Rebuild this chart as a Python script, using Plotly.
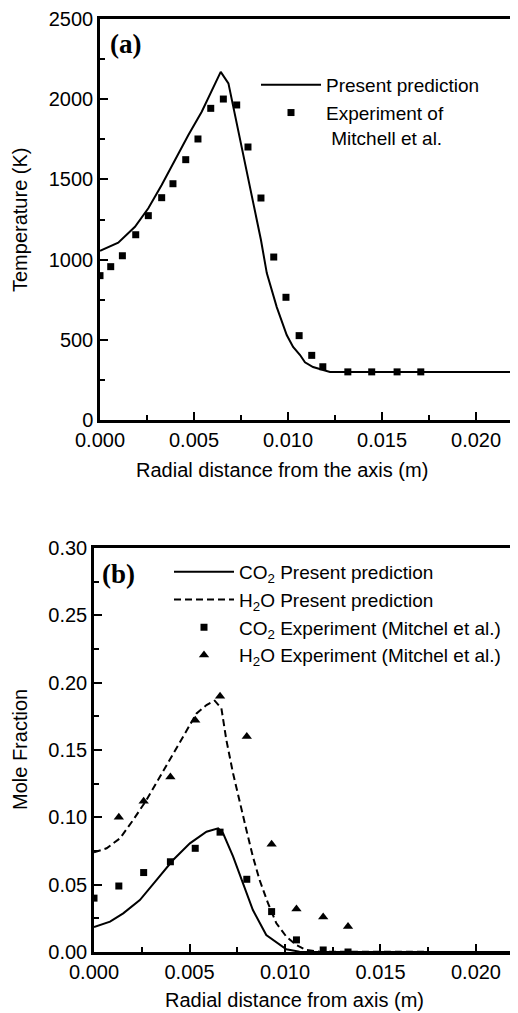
import plotly.graph_objects as go

# The page body adds an 8 px margin, so the figure is 8 px smaller than the window
OFF = 8
W, H = 518 - OFF, 1013 - OFF

# ---------------- Panel (a): temperature ----------------
temp_line_x = [0.0, 0.00097, 0.00186, 0.00257, 0.00328, 0.00399, 0.0047, 0.00541, 0.00594,
               0.00642, 0.00683, 0.00718, 0.00755, 0.00806, 0.00856, 0.00887, 0.0094, 0.00993,
               0.01027, 0.01064, 0.0109, 0.01133, 0.01223, 0.0223]
temp_line_T = [1055, 1105, 1205, 1320, 1465, 1621, 1777, 1922, 2057,
               2170, 2099, 1900, 1700, 1415, 1122, 916, 704, 530,
               455, 405, 360, 330, 300, 300]

temp_exp_x = [0.0, 0.00057, 0.00119, 0.0019, 0.00257, 0.00328, 0.00388, 0.00456, 0.00521,
              0.00589, 0.00656, 0.00727, 0.00787, 0.00856, 0.00924, 0.00989, 0.01059, 0.01126,
              0.01185, 0.01318, 0.01445, 0.0158, 0.01706]
temp_exp_T = [900, 956, 1024, 1155, 1274, 1386, 1473, 1623, 1752,
              1943, 2001, 1964, 1702, 1384, 1016, 765, 526, 403,
              332, 300, 300, 300, 300]

# ---------------- Panel (b): mole fractions ----------------
co2_line_x = [0.0, 0.00084, 0.00153, 0.0024, 0.00328, 0.00414, 0.00502, 0.00589, 0.0065,
              0.00676, 0.00728, 0.0078, 0.00832, 0.00902, 0.00972, 0.01007, 0.01076, 0.0223]
co2_line_y = [0.0185, 0.0225, 0.0287, 0.0386, 0.0535, 0.0683, 0.0807, 0.0893, 0.0918,
              0.0881, 0.071, 0.051, 0.0312, 0.0126, 0.0052, 0.002, 0.0002, 0.0]

h2o_line_x = [0.0, 0.00066, 0.00136, 0.00205, 0.00275, 0.00345, 0.00414, 0.00484, 0.00537,
              0.00589, 0.00632, 0.00667, 0.00693, 0.00728, 0.00763, 0.00798, 0.00832, 0.00867,
              0.00911, 0.00955, 0.01007, 0.01059, 0.01111, 0.01181, 0.0223]
h2o_line_y = [0.074, 0.077, 0.0844, 0.098, 0.1129, 0.1302, 0.1475, 0.1648, 0.1772,
              0.1834, 0.1866, 0.181, 0.1574, 0.1327, 0.1104, 0.0906, 0.0708, 0.0535,
              0.0362, 0.0213, 0.0114, 0.0052, 0.0015, 0.0002, 0.0]

co2_exp_x = [0.0, 0.0013, 0.0026, 0.0040, 0.0053, 0.0066, 0.0080, 0.0093, 0.0106, 0.0120, 0.0133]
co2_exp_y = [0.040, 0.049, 0.059, 0.067, 0.077, 0.089, 0.054, 0.030, 0.009, 0.0015, 0.0]

h2o_exp_x = [0.0013, 0.0026, 0.0040, 0.0053, 0.0066, 0.0080, 0.0093, 0.0106, 0.0120, 0.0133]
h2o_exp_y = [0.100, 0.112, 0.130, 0.172, 0.190, 0.160, 0.080, 0.032, 0.026, 0.019]

x_ticks = [0.0, 0.005, 0.010, 0.015, 0.020]

FONT = "Liberation Sans"


def px(p):
    """page x pixel -> paper fraction"""
    return (p - OFF) / W


def py(p):
    """page y pixel -> paper fraction"""
    return 1 - (p - OFF) / H


fig = go.Figure()

fig.add_trace(go.Scatter(x=temp_line_x, y=temp_line_T, mode="lines",
                         line=dict(color="black", width=2),
                         name="Present prediction", xaxis="x", yaxis="y", legend="legend"))
fig.add_trace(go.Scatter(x=temp_exp_x, y=temp_exp_T, mode="markers",
                         marker=dict(symbol="square", size=7, color="black"),
                         name="Experiment of<br> Mitchell et al.", xaxis="x", yaxis="y",
                         legend="legend"))

fig.add_trace(go.Scatter(x=co2_line_x, y=co2_line_y, mode="lines",
                         line=dict(color="black", width=2),
                         name="CO<sub>2</sub> Present prediction", xaxis="x2", yaxis="y2",
                         legend="legend2"))
fig.add_trace(go.Scatter(x=h2o_line_x, y=h2o_line_y, mode="lines",
                         line=dict(color="black", width=2, dash="7px,4px"),
                         name="H<sub>2</sub>O Present prediction", xaxis="x2", yaxis="y2",
                         legend="legend2"))
fig.add_trace(go.Scatter(x=co2_exp_x, y=co2_exp_y, mode="markers",
                         marker=dict(symbol="square", size=7, color="black"),
                         name="CO<sub>2</sub> Experiment (Mitchel et al.)", xaxis="x2", yaxis="y2",
                         legend="legend2"))
fig.add_trace(go.Scatter(x=h2o_exp_x, y=h2o_exp_y, mode="markers",
                         marker=dict(symbol="triangle-up", size=9, color="black"),
                         name="H<sub>2</sub>O Experiment (Mitchel et al.)", xaxis="x2", yaxis="y2",
                         legend="legend2"))

axis_common = dict(showline=True, linecolor="black", linewidth=2.5, showgrid=False,
                   zeroline=False, ticks="inside", ticklen=8, tickwidth=2, tickcolor="black",
                   automargin=False,
                   tickfont=dict(family=FONT, size=20, color="black"))

fig.update_layout(
    width=W, height=H,
    margin=dict(l=0, r=0, t=0, b=0, autoexpand=False),
    paper_bgcolor="white", plot_bgcolor="white",
    font=dict(family=FONT, color="black"),
    xaxis=dict(domain=[px(100), 1], anchor="y", range=[0, 0.02223], tickvals=x_ticks,
               tickformat=".3f", mirror=True,
               minor=dict(ticks="inside", ticklen=5, tickwidth=2, dtick=0.0025, tick0=0,
                          tickcolor="black"),
               **axis_common),
    yaxis=dict(domain=[py(420), py(19)], anchor="x", range=[0, 2500], dtick=500,
               minor=dict(ticks="inside", ticklen=5, tickwidth=2, dtick=250, tick0=0,
                          tickcolor="black"),
               **axis_common),
    xaxis2=dict(domain=[px(94), 1], anchor="y2", range=[0, 0.0222], tickvals=x_ticks,
                tickformat=".3f", mirror=True,
                minor=dict(ticks="inside", ticklen=5, tickwidth=2, dtick=0.0025, tick0=0,
                           tickcolor="black"),
                **axis_common),
    yaxis2=dict(domain=[py(952), py(548)], anchor="x2", range=[0, 0.30], dtick=0.05,
                tickformat=".2f",
                minor=dict(ticks="inside", ticklen=5, tickwidth=2, dtick=0.025, tick0=0,
                           tickcolor="black"),
                **axis_common),
    legend=dict(x=px(256), y=py(66), xanchor="left", yanchor="top", itemwidth=60,
                bgcolor="rgba(0,0,0,0)", valign="top", tracegroupgap=0,
                font=dict(family=FONT, size=19, color="black")),
    legend2=dict(x=px(169), y=py(553), xanchor="left", yanchor="top", itemwidth=60,
                 bgcolor="rgba(0,0,0,0)", tracegroupgap=0,
                 font=dict(family=FONT, size=19, color="black")),
    showlegend=True,
)

ann_font = dict(family=FONT, size=20, color="black")
fig.add_annotation(text="Radial distance from the axis (m)", xref="paper", yref="paper",
                   x=px(282), y=py(470), showarrow=False, font=ann_font,
                   xanchor="center", yanchor="middle")
fig.add_annotation(text="Radial distance from axis (m)", xref="paper", yref="paper",
                   x=px(294), y=py(1000), showarrow=False, font=ann_font,
                   xanchor="center", yanchor="middle")
fig.add_annotation(text="Temperature (K)", xref="paper", yref="paper",
                   x=px(20), y=py(220), showarrow=False, font=ann_font, textangle=-90,
                   xanchor="center", yanchor="middle")
fig.add_annotation(text="Mole Fraction", xref="paper", yref="paper",
                   x=px(20), y=py(750), showarrow=False, font=ann_font, textangle=-90,
                   xanchor="center", yanchor="middle")
fig.add_annotation(text="<b>(a)</b>", xref="paper", yref="paper",
                   x=px(108), y=py(44), showarrow=False,
                   font=dict(family="Liberation Serif", size=27, color="black"),
                   xanchor="left", yanchor="middle")
fig.add_annotation(text="<b>(b)</b>", xref="paper", yref="paper",
                   x=px(100), y=py(574), showarrow=False,
                   font=dict(family="Liberation Serif", size=27, color="black"),
                   xanchor="left", yanchor="middle")

fig.write_html("out.html")
